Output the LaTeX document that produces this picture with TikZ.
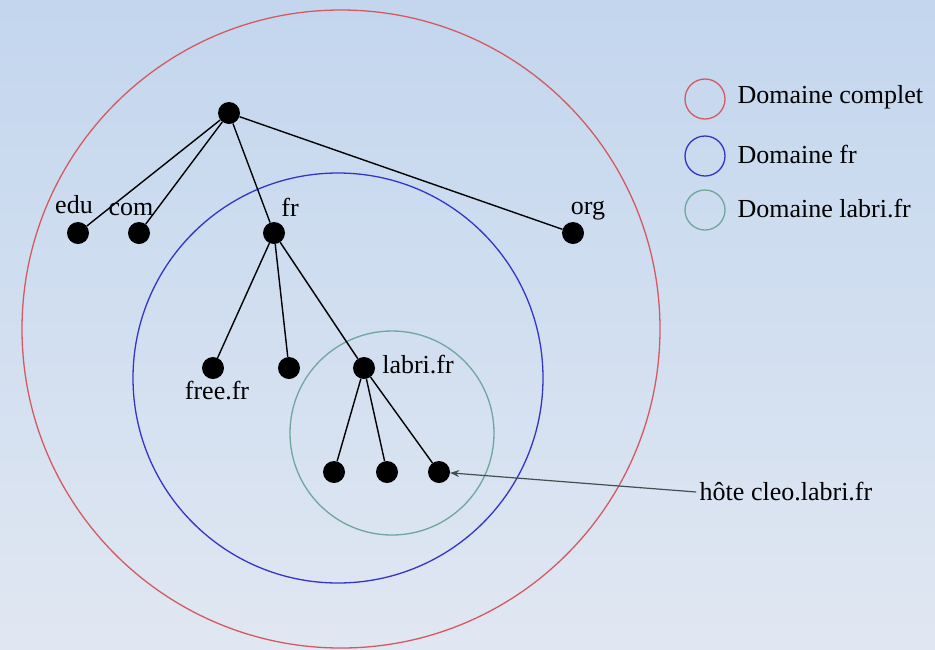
\documentclass[tikz,border=0pt]{standalone}
\usepackage{fontspec}
\setmainfont{Liberation Serif}
\usetikzlibrary{arrows.meta}
\definecolor{domred}{HTML}{D45A60}
\definecolor{domblue}{HTML}{3434C8}
\definecolor{domgreen}{HTML}{6FA69D}
\definecolor{arrowgray}{HTML}{3F5150}
\definecolor{bgtop}{HTML}{C3D6EE}
\definecolor{bgbottom}{HTML}{E0E7F2}

\begin{document}
\begin{tikzpicture}[x=1pt,y=-1pt,font={\fontsize{26}{30}\selectfont},
  dot/.style={circle,fill=black,inner sep=0pt,minimum size=22pt},
  edge/.style={black,line width=1.4pt},
  ring/.style={line width=1.3pt}]
\fill[top color=bgtop,bottom color=bgbottom] (0,0) rectangle (935,649);
\useasboundingbox (0,0) rectangle (935,649);

\draw[ring,domred] (341,329) circle[radius=319pt];
\draw[ring,domblue] (338,378) circle[radius=205pt];
\draw[ring,domgreen] (392,433) circle[radius=102pt];

\node[dot] (root) at (229,113) {};
\node[dot] (edu) at (78,233) {};
\node[dot] (com) at (139,233) {};
\node[dot] (fr) at (274,233) {};
\node[dot] (org) at (573,233) {};
\node[dot] (free) at (213,368) {};
\node[dot] (other) at (289,368) {};
\node[dot] (labri) at (364,368) {};
\node[dot] (cleoa) at (334,472) {};
\node[dot] (cleob) at (387,472) {};
\node[dot] (cleo) at (439,472) {};

\foreach \from/\to in {root/edu,root/com,root/fr,root/org,
    fr/free,fr/other,fr/labri,labri/cleoa,labri/cleob,labri/cleo}
  \draw[edge] (\from) -- (\to);

\node (edulab) at (74,205) {edu};
\node (comlab) at (131,209) {com};
\node (frlab) at (290,207) {fr};
\node (orglab) at (588,211) {org};
\node (freelab) at (217,391) {free.fr};
\node (labrilab) at (418,365) {labri.fr};
\node (hote) at (786,492) {hôte cleo.labri.fr};

\draw[-{Stealth[length=9pt,width=7pt]},arrowgray,line width=1.2pt]
  (hote.west) -- (cleo);

\draw[ring,domred] (705,99) circle[radius=20pt];
\draw[ring,domblue] (705,156) circle[radius=20pt];
\draw[ring,domgreen] (705,210) circle[radius=20pt];
\node[anchor=west] (complet) at (734,97) {Domaine complet};
\node[anchor=west] (domfr) at (734,154) {Domaine fr};
\node[anchor=west] (domlabri) at (734,209) {Domaine labri.fr};
\end{tikzpicture}
\end{document}
